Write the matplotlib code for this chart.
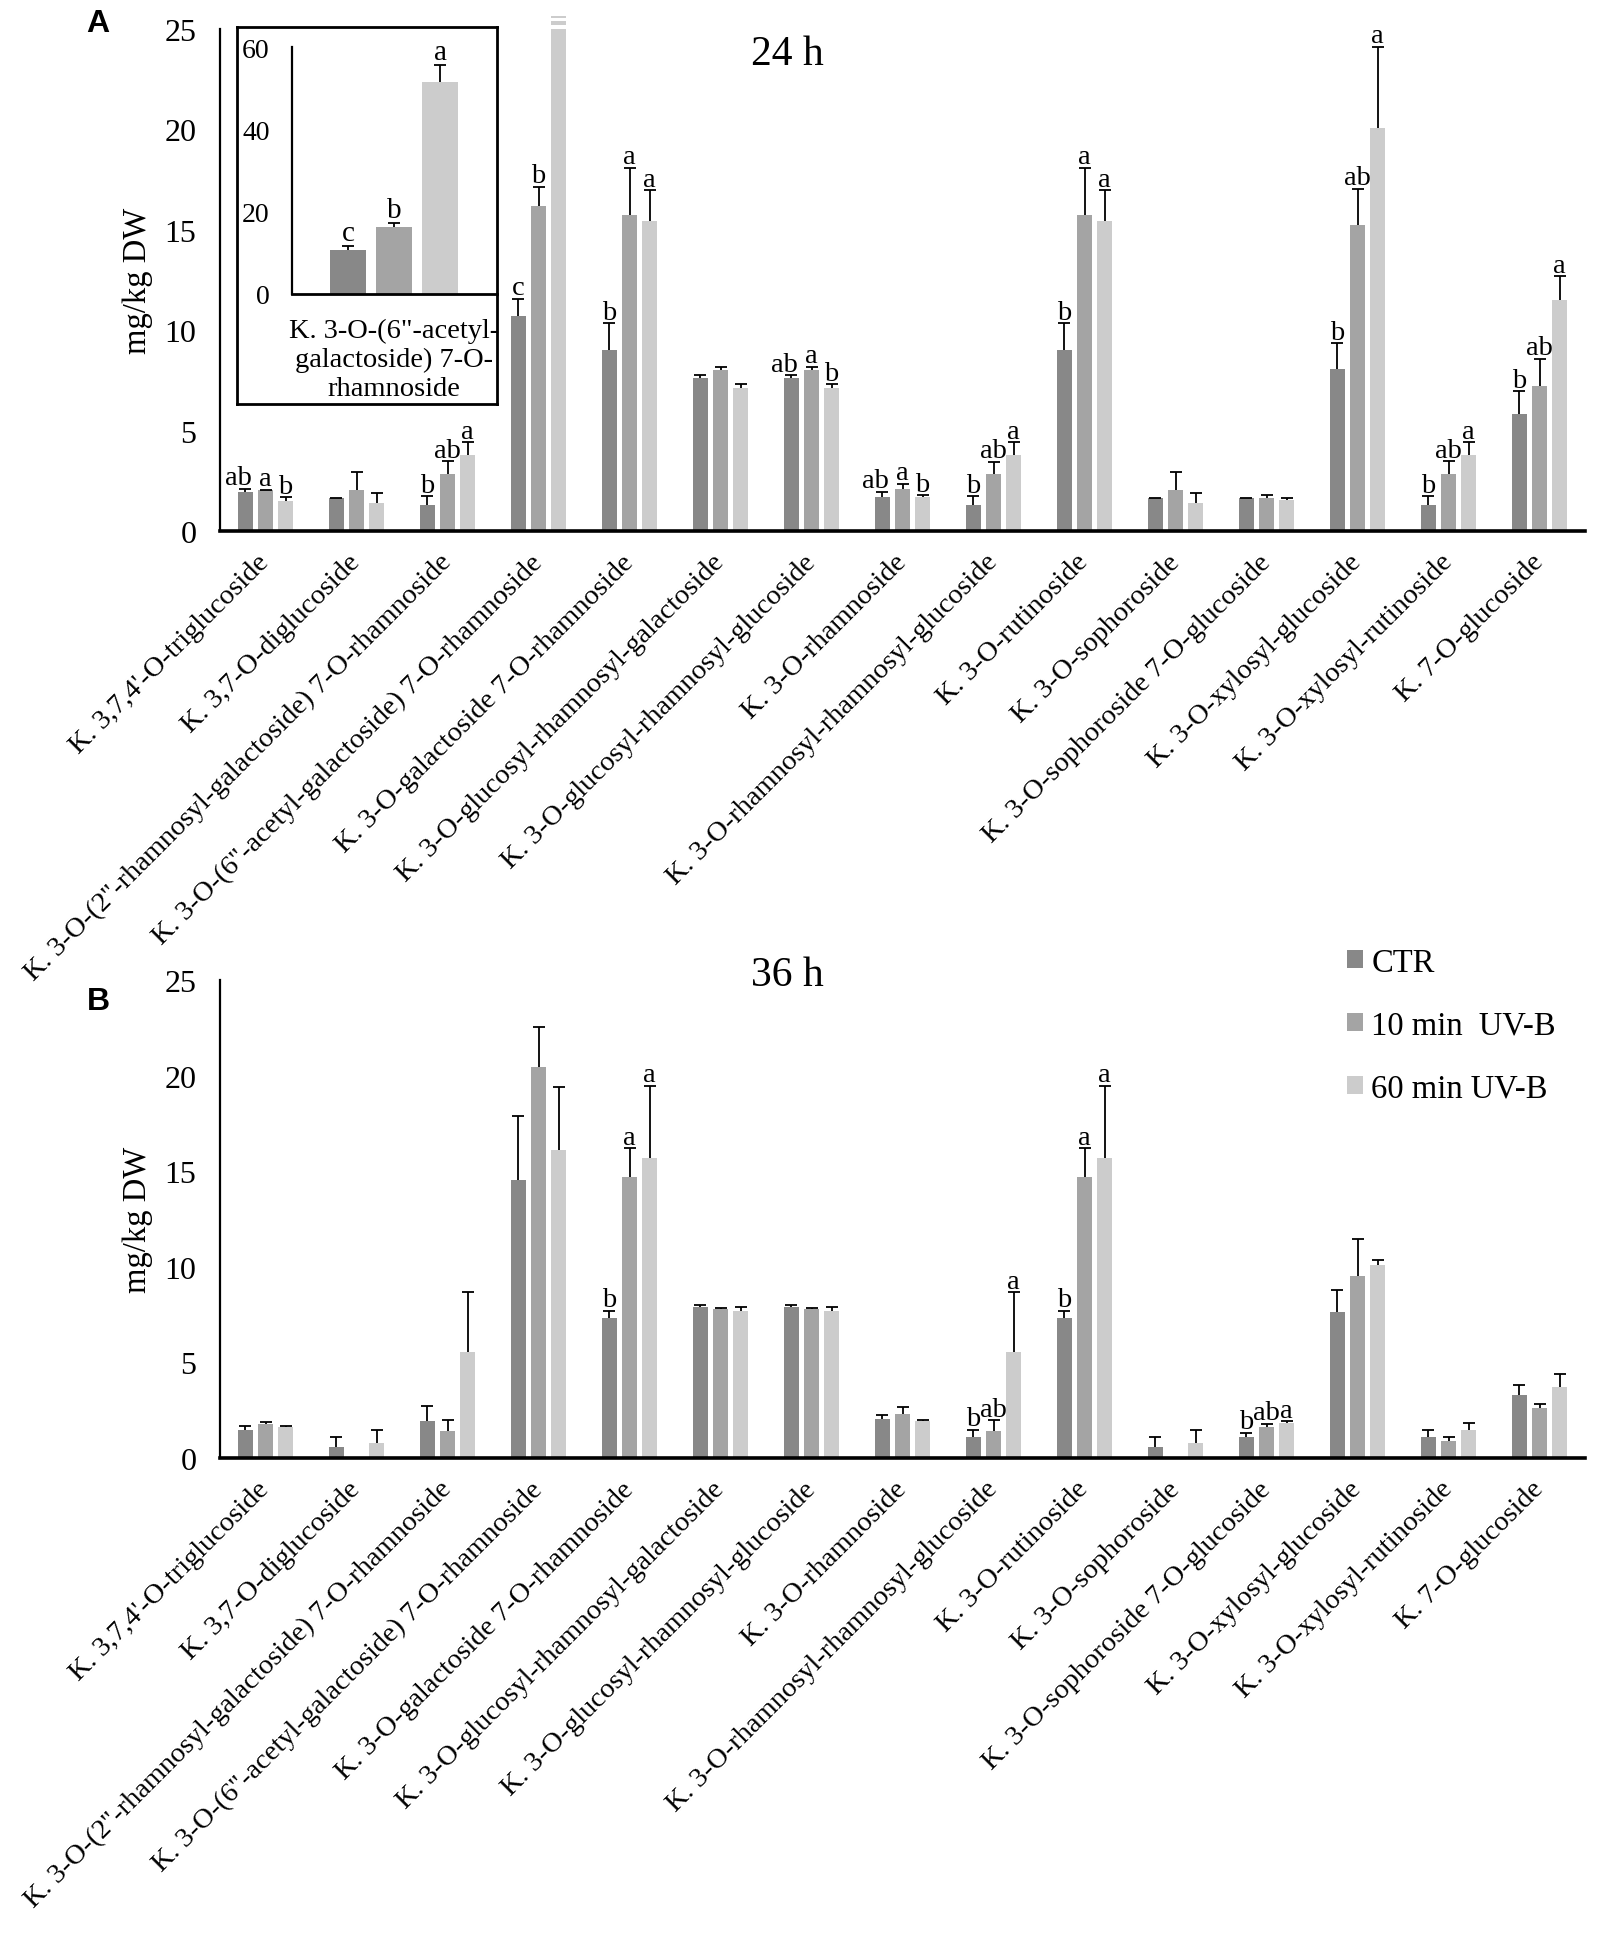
import numpy as np
import matplotlib
matplotlib.use("Agg")
import matplotlib.pyplot as plt

plt.rcParams['font.family'] = ['Liberation Serif', 'DejaVu Serif']

categories = [
    "K. 3,7,4'-O-triglucoside",
    "K. 3,7-O-diglucoside",
    "K. 3-O-(2''-rhamnosyl-galactoside) 7-O-rhamnoside",
    "K. 3-O-(6''-acetyl-galactoside) 7-O-rhamnoside",
    "K. 3-O-galactoside 7-O-rhamnoside",
    "K. 3-O-glucosyl-rhamnosyl-galactoside",
    "K. 3-O-glucosyl-rhamnosyl-glucoside",
    "K. 3-O-rhamnoside",
    "K. 3-O-rhamnosyl-rhamnosyl-glucoside",
    "K. 3-O-rutinoside",
    "K. 3-O-sophoroside",
    "K. 3-O-sophoroside 7-O-glucoside",
    "K. 3-O-xylosyl-glucoside",
    "K. 3-O-xylosyl-rutinoside",
    "K. 7-O-glucoside",
]
series_names = ["CTR", "10 min  UV-B", "60 min UV-B"]
colors = ["#888888", "#a4a4a4", "#cccccc"]

# 24 h
ctr_24 = [1.95, 1.63, 1.29, 10.7, 8.99, 7.63, 7.63, 1.68, 1.29, 8.99, 1.63, 1.63, 8.05, 1.29, 5.84]
ctr_24_err = [0.14, 0.02, 0.44, 0.85, 1.36, 0.14, 0.12, 0.27, 0.43, 1.36, 0.02, 0.02, 1.30, 0.43, 1.12]
uv10_24 = [2.02, 2.05, 2.83, 16.2, 15.75, 8.02, 8.02, 2.09, 2.83, 15.75, 2.05, 1.63, 15.24, 2.83, 7.22]
uv10_24_err = [0.02, 0.87, 0.64, 0.94, 2.35, 0.17, 0.17, 0.25, 0.62, 2.35, 0.87, 0.16, 1.80, 0.64, 1.36]
uv60_24 = [1.50, 1.38, 3.77, 51.5, 15.43, 7.10, 7.10, 1.68, 3.77, 15.43, 1.38, 1.56, 20.05, 3.77, 11.50]
uv60_24_err = [0.18, 0.53, 0.65, 4.2, 1.53, 0.21, 0.21, 0.09, 0.65, 1.53, 0.53, 0.10, 4.07, 0.65, 1.19]
letters_ctr_24 = ["ab", "", "b", "c", "b", "", "ab", "ab", "b", "b", "", "", "b", "b", "b"]
letters_10_24 = ["a", "", "ab", "b", "a", "", "a", "a", "ab", "a", "", "", "ab", "ab", "ab"]
letters_60_24 = ["b", "", "a", "", "a", "", "b", "b", "a", "a", "", "", "a", "a", "a"]

# 36 h
ctr_36 = [1.48, 0.59, 1.93, 14.52, 7.34, 7.88, 7.88, 2.02, 1.12, 7.34, 0.59, 1.12, 7.65, 1.12, 3.28]
ctr_36_err = [0.18, 0.51, 0.79, 3.37, 0.36, 0.13, 0.13, 0.23, 0.37, 0.36, 0.51, 0.21, 1.12, 0.37, 0.54]
uv10_36 = [1.80, 0.0, 1.39, 20.45, 14.72, 7.78, 7.78, 2.29, 1.39, 14.72, 0.0, 1.60, 9.52, 0.88, 2.61]
uv10_36_err = [0.07, np.nan, 0.59, 2.08, 1.48, 0.05, 0.05, 0.36, 0.59, 1.48, np.nan, 0.18, 1.96, 0.22, 0.22]
uv60_36 = [1.62, 0.81, 5.53, 16.13, 15.71, 7.69, 7.69, 1.96, 5.53, 15.71, 0.81, 1.82, 10.12, 1.48, 3.69]
uv60_36_err = [0.04, 0.63, 3.15, 3.29, 3.75, 0.19, 0.19, 0.04, 3.13, 3.75, 0.63, 0.09, 0.23, 0.37, 0.72]
letters_ctr_36 = ["", "", "", "", "b", "", "", "", "b", "b", "", "b", "", "", ""]
letters_10_36 = ["", "", "", "", "a", "", "", "", "ab", "a", "", "ab", "", "", ""]
letters_60_36 = ["", "", "", "", "a", "", "", "", "a", "a", "", "a", "", "", ""]

yticks_main = [0, 5, 10, 15, 20, 25]
yticks_inset = [0, 20, 40, 60]
inset_idx = 3
inset_label = "K. 3-O-(6\"-acetyl-\ngalactoside) 7-O-\nrhamnoside"

W, H = 1600, 1940
fig = plt.figure(figsize=(W / 100, H / 100), dpi=100)


def fr(x0, y_top, x1, y_bot):
    return [x0 / W, 1 - y_bot / H, (x1 - x0) / W, (y_bot - y_top) / H]


bar_w = 0.17
off = 0.22
x = np.arange(len(categories))
LETTER_FS = 20.5


def draw_panel(ax, series, errs, letters, title, title_y):
    for i, (vals, er, lt) in enumerate(zip(series, errs, letters)):
        xs = x + (i - 1) * off
        ax.bar(xs, vals, width=bar_w, color=colors[i], label=series_names[i], zorder=2)
        er = np.asarray(er, dtype=float)
        vals = np.asarray(vals, dtype=float)
        top = vals + np.nan_to_num(er)
        eb = ax.errorbar(xs, vals, yerr=[np.zeros_like(er), er], fmt='none',
                         ecolor='black', elinewidth=1.3, capsize=4, capthick=1.3, zorder=3)
        eb[1][0].set_visible(False)
        for xi, t, s, v in zip(xs, top, lt, vals):
            if s and v <= 25:
                dx = -5 if (i == 0 and len(s) == 2) else 0
                ax.annotate(s, (xi, t), xytext=(dx, -1), textcoords='offset points',
                            ha='center', va='bottom', fontsize=LETTER_FS)
    ax.set_xlim(-0.5, len(categories) - 0.5)
    ax.set_ylim(0, 25)
    ax.set_yticks(yticks_main)
    ax.tick_params(axis='y', length=0, pad=17, labelsize=23)
    ax.set_xticks(x)
    ax.set_xticklabels(categories, rotation=45, ha='right', va='center',
                       rotation_mode='anchor', fontsize=20.5)
    ax.tick_params(axis='x', length=0, pad=19.5)
    for s in ['top', 'right']:
        ax.spines[s].set_visible(False)
    ax.spines['bottom'].set_linewidth(2.6)
    ax.spines['left'].set_linewidth(1.6)
    ax.set_ylabel("mg/kg DW", fontsize=23.5)
    ax.yaxis.set_label_coords(-0.049, 0.5)
    ax.text(0.416, title_y, title, transform=ax.transAxes, ha='center', va='center', fontsize=30)


# Panel A
axA = fig.add_axes(fr(220, 30, 1585, 532))
draw_panel(axA, [ctr_24, uv10_24, uv60_24], [ctr_24_err, uv10_24_err, uv60_24_err],
           [letters_ctr_24, letters_10_24, letters_60_24], "24 h", 0.950)
# break marks on the truncated bar
brk_x = x[inset_idx] + off
axA.bar([brk_x], [0.2], bottom=25.18, width=bar_w, color=colors[2], clip_on=False, zorder=2)
axA.bar([brk_x], [0.1], bottom=25.55, width=bar_w, color=colors[2], clip_on=False, zorder=2)

# Panel B
axB = fig.add_axes(fr(220, 981, 1585, 1459))
draw_panel(axB, [ctr_36, uv10_36, uv60_36], [ctr_36_err, uv10_36_err, uv60_36_err],
           [letters_ctr_36, letters_10_36, letters_60_36], "36 h", 1.010)
axB.legend(loc='upper left', bbox_to_anchor=(1347 / W, 1 - 948 / H), bbox_transform=fig.transFigure,
           frameon=False, fontsize=23.5, handlelength=0.5, handleheight=0.5, handletextpad=0.25,
           labelspacing=1.0, borderpad=0, borderaxespad=0)

# Inset box
axBox = fig.add_axes(fr(237, 28, 497, 405))
axBox.set_facecolor('white')
axBox.set_xticks([])
axBox.set_yticks([])
for s in axBox.spines.values():
    s.set_linewidth(2.0)

axIn = fig.add_axes(fr(292, 48, 497, 295))
axIn.patch.set_alpha(0)
inset_vals = [ctr_24[inset_idx], uv10_24[inset_idx], uv60_24[inset_idx]]
inset_errs = [ctr_24_err[inset_idx], uv10_24_err[inset_idx], uv60_24_err[inset_idx]]
inset_letters = [letters_ctr_24[inset_idx], letters_10_24[inset_idx], "a"]
xi = np.array([-1, 0, 1])
axIn.bar(xi, inset_vals, width=0.78, color=colors, zorder=2)
ebi = axIn.errorbar(xi, inset_vals, yerr=[np.zeros(3), inset_errs], fmt='none', ecolor='black',
                    elinewidth=1.3, capsize=4, capthick=1.3, zorder=3)
ebi[1][0].set_visible(False)
for xx, v, e, s in zip(xi, inset_vals, inset_errs, inset_letters):
    axIn.annotate(s, (xx, v + e), xytext=(0, 0), textcoords='offset points',
                  ha='center', va='bottom', fontsize=21)
axIn.set_xlim(-2.22, 2.24)
axIn.set_ylim(0, 60)
axIn.set_yticks(yticks_inset)
axIn.tick_params(axis='y', length=0, pad=16, labelsize=20)
axIn.set_xticks([0])
axIn.set_xticklabels([inset_label], fontsize=20.5, linespacing=1.2)
axIn.tick_params(axis='x', length=0, pad=17)
for s in ['top', 'right']:
    axIn.spines[s].set_visible(False)
axIn.spines['left'].set_linewidth(1.6)
axIn.spines['bottom'].set_linewidth(2.0)

# Panel letters
fig.text(98 / W, 1 - 24 / H, "A", fontsize=23, fontweight='bold', family='Liberation Sans',
         ha='center', va='center')
fig.text(98 / W, 1 - 1002 / H, "B", fontsize=23, fontweight='bold', family='Liberation Sans',
         ha='center', va='center')

fig.savefig("out.png", dpi=100, facecolor='white')
